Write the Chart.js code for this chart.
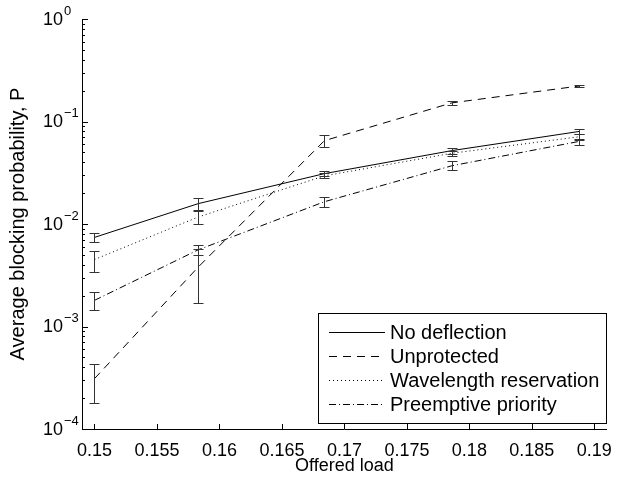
<!DOCTYPE html>
<html lang="en">
<head>
<meta charset="UTF-8" />
<title>Average blocking probability vs offered load</title>
<script src="https://cdn.jsdelivr.net/npm/chart.js"></script>
<style>
  html, body { margin: 0; padding: 0; background: #fff; }
  #wrap { width: 623px; height: 477px; }
</style>
</head>
<body>
<div id="wrap"><canvas id="chart" width="623" height="477"></canvas></div>
<script>
// offered load values (x)
const load = [0.15, 0.1583, 0.1684, 0.1786, 0.1888];

const seriesNames = ['No deflection', 'Unprotected', 'Wavelength reservation', 'Preemptive priority'];

// mean blocking probability + error bar limits
const noDeflection     = [0.0074, 0.0158, 0.031, 0.052, 0.080];
const noDeflectionLow  = [0.0067, 0.0137, 0.0292, 0.0485, 0.075];
const noDeflectionHigh = [0.0082, 0.0178, 0.0330, 0.0550, 0.085];

const unprotected     = [0.00031, 0.0038, 0.065, 0.152, 0.222];
const unprotectedLow  = [0.00018, 0.0017, 0.057, 0.146, 0.216];
const unprotectedHigh = [0.00043, 0.0057, 0.074, 0.160, 0.228];

const wavelength     = [0.0045, 0.0117, 0.0295, 0.049, 0.071];
const wavelengthLow  = [0.0034, 0.0099, 0.0280, 0.046, 0.066];
const wavelengthHigh = [0.0054, 0.0135, 0.0312, 0.052, 0.076];

const preemptive     = [0.0018, 0.0056, 0.0165, 0.037, 0.064];
const preemptiveLow  = [0.00144, 0.0050, 0.0147, 0.0338, 0.059];
const preemptiveHigh = [0.00215, 0.0062, 0.0184, 0.0414, 0.068];

const xTicks = [0.15, 0.155, 0.16, 0.165, 0.17, 0.175, 0.18, 0.185, 0.19];
const yExponents = [0, -1, -2, -3, -4];

const FONT = '"Liberation Sans", Arial, Helvetica, sans-serif';

function pts(vals) {
  return vals.map((v, i) => ({ x: load[i], y: v }));
}

function makeSet(name, vals, lo, hi, dash) {
  return {
    label: name,
    data: pts(vals),
    errLow: lo,
    errHigh: hi,
    borderColor: '#000',
    borderWidth: 1,
    borderDash: dash,
    pointRadius: 0,
    tension: 0,
    fill: false
  };
}

const matlabLook = {
  id: 'matlabLook',
  afterDatasetsDraw(chart) {
    const { ctx, scales: { x, y } } = chart;
    ctx.save();
    ctx.strokeStyle = '#333';
    ctx.lineWidth = 1;
    ctx.setLineDash([]);
    chart.data.datasets.forEach(ds => {
      ds.errLow.forEach((lo, i) => {
        const px = Math.round(x.getPixelForValue(load[i])) + 0.5;
        const yl = Math.round(y.getPixelForValue(lo)) + 0.5;
        const yh = Math.round(y.getPixelForValue(ds.errHigh[i])) + 0.5;
        ctx.beginPath();
        ctx.moveTo(px, yl); ctx.lineTo(px, yh);
        ctx.moveTo(px - 5, yl); ctx.lineTo(px + 5, yl);
        ctx.moveTo(px - 5, yh); ctx.lineTo(px + 5, yh);
        ctx.stroke();
      });
    });
    ctx.restore();
  },
  afterDraw(chart) {
    const { ctx, chartArea: a, scales: { x, y } } = chart;
    ctx.save();
    ctx.strokeStyle = '#000';
    ctx.lineWidth = 1;
    ctx.setLineDash([]);

    // inward ticks on x axis
    ctx.beginPath();
    xTicks.forEach(v => {
      const px = Math.round(x.getPixelForValue(v)) + 0.5;
      ctx.moveTo(px, a.bottom);
      ctx.lineTo(px, a.bottom - 5);
    });
    // inward major + minor ticks on log y axis
    yExponents.forEach(e => {
      for (let m = 1; m <= 9; m++) {
        const v = m * Math.pow(10, e);
        if (v > 1.0000001) break;
        const py = Math.round(y.getPixelForValue(v)) + 0.5;
        ctx.moveTo(a.left, py);
        ctx.lineTo(a.left + (m === 1 ? 6 : 3), py);
      }
    });
    ctx.stroke();

    // y labels 10^n
    ctx.fillStyle = '#000';
    ctx.textBaseline = 'middle';
    ctx.textAlign = 'left';
    yExponents.forEach(e => {
      const py = y.getPixelForValue(Math.pow(10, e));
      ctx.font = '18px ' + FONT;
      ctx.fillText('10', 43, py + 1);
      const w = ctx.measureText('10').width;
      ctx.font = '13px ' + FONT;
      ctx.fillText(e === 0 ? '0' : '\u2212' + (-e), 43 + w + 1, py - 8);
    });

    // legend box
    const bx = 318, by = 313, bw = 288, bh = 110;
    ctx.fillStyle = '#fff';
    ctx.fillRect(bx, by, bw, bh);
    ctx.strokeRect(bx + 0.5, by + 0.5, bw, bh);
    ctx.font = '20px ' + FONT;
    ctx.fillStyle = '#000';
    chart.data.datasets.forEach((ds, i) => {
      const ry = Math.round(by + 19 + i * 24) + 0.5;
      ctx.setLineDash(ds.borderDash);
      ctx.beginPath();
      ctx.moveTo(329, ry);
      ctx.lineTo(385, ry);
      ctx.stroke();
      ctx.setLineDash([]);
      ctx.fillText(ds.label, 390, ry + 1);
    });
    ctx.restore();
  }
};

new Chart(document.getElementById('chart'), {
  type: 'line',
  data: {
    datasets: [
      makeSet(seriesNames[0], noDeflection, noDeflectionLow, noDeflectionHigh, []),
      makeSet(seriesNames[1], unprotected, unprotectedLow, unprotectedHigh, [8, 6]),
      makeSet(seriesNames[2], wavelength, wavelengthLow, wavelengthHigh, [1, 3]),
      makeSet(seriesNames[3], preemptive, preemptiveLow, preemptiveHigh, [7, 3, 1, 3])
    ]
  },
  options: {
    responsive: false,
    animation: false,
    layout: { padding: { top: 19, right: 6, left: 0, bottom: 0 } },
    plugins: {
      legend: { display: false },
      tooltip: { enabled: false }
    },
    scales: {
      x: {
        type: 'linear',
        min: 0.149,
        max: 0.191,
        afterBuildTicks: s => { s.ticks = xTicks.map(v => ({ value: v })); },
        afterFit: s => { s.height = 48; },
        grid: { display: false, drawTicks: false },
        border: { display: true, color: '#000', width: 1 },
        ticks: {
          color: '#000',
          font: { family: FONT, size: 18 },
          padding: 11,
          maxRotation: 0,
          autoSkip: false,
          callback: v => String(+(+v).toFixed(3))
        },
        title: {
          display: true,
          text: 'Offered load',
          color: '#000',
          font: { family: FONT, size: 18 },
          padding: { top: 0, bottom: 0 }
        }
      },
      y: {
        type: 'logarithmic',
        min: 1e-4,
        max: 1,
        afterFit: s => { s.width = 82; },
        grid: { display: false, drawTicks: false },
        border: { display: true, color: '#000', width: 1 },
        ticks: { display: false },
        title: {
          display: true,
          text: 'Average blocking probability, P',
          color: '#000',
          font: { family: FONT, size: 20 },
          padding: { top: 6, bottom: 0 }
        }
      }
    }
  },
  plugins: [matlabLook]
});
</script>
</body>
</html>
